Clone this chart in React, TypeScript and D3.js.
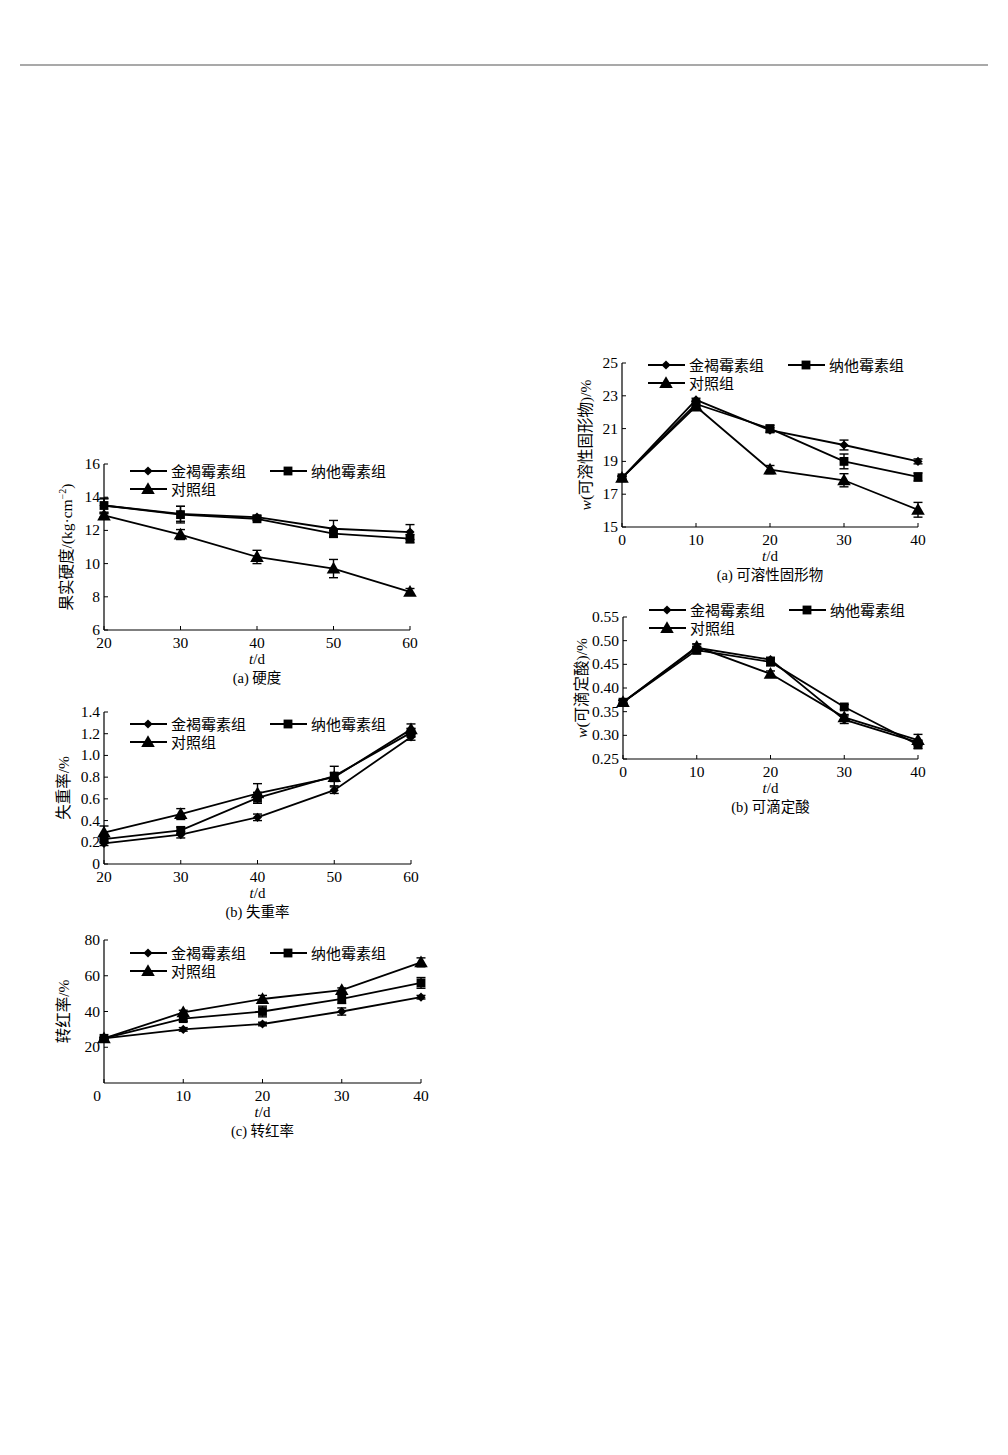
import * as d3 from 'd3'

const SERIES_NAMES = ['金褐霉素组', '纳他霉素组', '对照组']
const MARKERS = ['diamond', 'square', 'triangle']

// (a) 硬度
const daysA = [20, 30, 40, 50, 60]
const hardness = [
  [13.5, 13.0, 12.8, 12.1, 11.9],
  [13.5, 12.95, 12.7, 11.8, 11.5],
  [12.9, 11.75, 10.4, 9.7, 8.3],
]
const hardnessErr = [
  [0.45, 0.45, 0.1, 0.5, 0.45],
  [0.4, 0.5, 0.1, 0.2, 0.25],
  [0.1, 0.3, 0.4, 0.55, 0.2],
]
const hardnessTicks = [6, 8, 10, 12, 14, 16]

// (b) 失重率
const weightLoss = [
  [0.19, 0.27, 0.43, 0.68, 1.17],
  [0.23, 0.31, 0.61, 0.81, 1.21],
  [0.29, 0.46, 0.65, 0.8, 1.24],
]
const weightLossErr = [
  [0.02, 0.03, 0.03, 0.03, 0.03],
  [0.03, 0.03, 0.05, 0.09, 0.04],
  [0.06, 0.05, 0.09, 0.04, 0.05],
]
const weightLossTicks = [0, 0.2, 0.4, 0.6, 0.8, 1.0, 1.2, 1.4]

// (c) 转红率
const daysB = [0, 10, 20, 30, 40]
const redRate = [
  [25, 30, 33, 40, 48],
  [25, 36, 40, 47, 56],
  [25, 39.5, 47, 52, 67.5],
]
const redRateErr = [
  [0.5, 1, 1, 2, 1],
  [0.5, 1.5, 3, 2.5, 3],
  [0.5, 1.2, 2, 1.2, 2.5],
]
const redRateTicks = [20, 40, 60, 80]

// (a) 可溶性固形物
const solids = [
  [18, 22.75, 20.9, 20.0, 19.0],
  [18, 22.5, 21.0, 19.0, 18.05],
  [18, 22.35, 18.5, 17.85, 16.05],
]
const solidsErr = [
  [0.1, 0.1, 0.15, 0.3, 0.15],
  [0.1, 0.15, 0.2, 0.45, 0.25],
  [0.1, 0.15, 0.25, 0.4, 0.45],
]
const solidsTicks = [15, 17, 19, 21, 23, 25]

// (b) 可滴定酸
const acid = [
  [0.37, 0.485, 0.46, 0.333, 0.285],
  [0.37, 0.48, 0.455, 0.36, 0.28],
  [0.37, 0.487, 0.43, 0.338, 0.29],
]
const acidErr = [
  [0.004, 0.008, 0.005, 0.008, 0.005],
  [0.004, 0.008, 0.008, 0.005, 0.008],
  [0.004, 0.006, 0.006, 0.006, 0.012],
]
const acidTicks = [0.25, 0.3, 0.35, 0.4, 0.45, 0.5, 0.55]

const dayTicksA = [20, 30, 40, 50, 60]
const dayTicksB = [0, 10, 20, 30, 40]

const NUM_FONT = '"Liberation Serif", "DejaVu Serif", serif'
const CJK_FONT = '"Liberation Serif", "Noto Sans CJK SC", serif'

type PanelProps = {
  left: number
  right: number
  top: number
  bottom: number
  xs: number[]
  xTicks: number[]
  yDomain: [number, number]
  yTicks: number[]
  yFormat: (v: number) => string
  values: number[][]
  errors: number[][]
  legendY: number
  caption: string
  yLabel: React.ReactNode
  yLabelX: number
  firstXLabelDx?: number
}

function Marker({ kind, x, y }: { kind: string; x: number; y: number }) {
  if (kind === 'square') {
    return <path d={d3.symbol(d3.symbolSquare, 78)() ?? ''} transform={`translate(${x},${y})`} fill="#000" />
  }
  if (kind === 'diamond') {
    return <path d={d3.symbol(d3.symbolSquare, 42)() ?? ''} transform={`translate(${x},${y}) rotate(45)`} fill="#000" />
  }
  return <path d={d3.symbol(d3.symbolTriangle, 80)() ?? ''} transform={`translate(${x},${y + 1})`} fill="#000" />
}

function Panel(p: PanelProps) {
  const x = d3.scaleLinear().domain([p.xTicks[0], p.xTicks[p.xTicks.length - 1]]).range([p.left, p.right])
  const y = d3.scaleLinear().domain(p.yDomain).range([p.bottom, p.top])
  const line = d3.line<[number, number]>().x((d) => x(d[0])).y((d) => y(d[1]))
  const cx = (p.left + p.right) / 2
  const cy = (p.top + p.bottom) / 2
  const legendItems = [
    { x0: p.left + 26, y0: p.legendY },
    { x0: p.left + 166, y0: p.legendY },
    { x0: p.left + 26, y0: p.legendY + 18 },
  ]

  return (
    <g>
      {/* axes */}
      <line x1={p.left} x2={p.left} y1={p.top} y2={p.bottom} stroke="#000" strokeWidth={1.2} />
      <line x1={p.left} x2={p.right} y1={p.bottom} y2={p.bottom} stroke="#000" strokeWidth={1.2} />
      {p.yTicks.map((t) => (
        <g key={'y' + t}>
          <line x1={p.left} x2={p.left + 4} y1={y(t)} y2={y(t)} stroke="#000" strokeWidth={1} />
          <text x={p.left - 4} y={y(t) + 5} textAnchor="end" fontFamily={NUM_FONT} fontSize={15.5}>
            {p.yFormat(t)}
          </text>
        </g>
      ))}
      {p.xTicks.map((t, i) => (
        <g key={'x' + t}>
          <line x1={x(t)} x2={x(t)} y1={p.bottom} y2={p.bottom - 4} stroke="#000" strokeWidth={1} />
          <text x={x(t) + (i === 0 && p.firstXLabelDx ? p.firstXLabelDx : 0)} y={p.bottom + 18} textAnchor="middle" fontFamily={NUM_FONT} fontSize={15.5}>
            {t}
          </text>
        </g>
      ))}
      <text x={cx} y={p.bottom + 34} textAnchor="middle" fontFamily={NUM_FONT} fontSize={15}>
        <tspan fontStyle="italic">t</tspan>/d
      </text>
      <text x={cx} y={p.bottom + 53} textAnchor="middle" fontFamily={CJK_FONT} fontSize={14.5}>
        {p.caption}
      </text>
      <text
        transform={`translate(${p.yLabelX},${cy}) rotate(-90)`}
        textAnchor="middle"
        fontFamily={CJK_FONT}
        fontSize={15.5}
      >
        {p.yLabel}
      </text>

      {/* series */}
      {p.values.map((vals, si) => {
        const pts = vals.map((v, i) => [p.xs[i], v] as [number, number])
        return (
          <g key={'s' + si}>
            <path d={line(pts) ?? ''} fill="none" stroke="#000" strokeWidth={1.8} />
            {vals.map((v, i) => {
              const e = p.errors[si][i]
              const px = x(p.xs[i])
              return (
                <g key={i} stroke="#000" strokeWidth={1.4}>
                  <line x1={px} x2={px} y1={y(v - e)} y2={y(v + e)} />
                  <line x1={px - 4.5} x2={px + 4.5} y1={y(v - e)} y2={y(v - e)} />
                  <line x1={px - 4.5} x2={px + 4.5} y1={y(v + e)} y2={y(v + e)} />
                </g>
              )
            })}
            {vals.map((v, i) => (
              <Marker key={'m' + i} kind={MARKERS[si]} x={x(p.xs[i])} y={y(v)} />
            ))}
          </g>
        )
      })}

      {/* legend */}
      {SERIES_NAMES.map((name, i) => {
        const it = legendItems[i]
        return (
          <g key={'l' + i}>
            <line x1={it.x0} x2={it.x0 + 37} y1={it.y0} y2={it.y0} stroke="#000" strokeWidth={1.8} />
            <Marker kind={MARKERS[i]} x={it.x0 + 18} y={it.y0} />
            <text x={it.x0 + 41} y={it.y0 + 5.5} fontFamily={CJK_FONT} fontSize={15}>
              {name}
            </text>
          </g>
        )
      })}
    </g>
  )
}

export default function App() {
  const f0 = (v: number) => String(v)
  const f1 = (v: number) => (v === 0 ? '0' : v.toFixed(1))
  const f2 = (v: number) => v.toFixed(2)
  return (
    <svg width={1008} height={1455} style={{ position: 'absolute', left: 0, top: 0, background: '#fff' }}>
      <rect width={1008} height={1455} fill="#fff" />
      <line x1={20} x2={988} y1={65} y2={65} stroke="#8c8c8c" strokeWidth={1.6} />

      <Panel
        left={104} right={410} top={464} bottom={630}
        xs={daysA} xTicks={dayTicksA}
        yDomain={[6, 16]} yTicks={hardnessTicks} yFormat={f0}
        values={hardness} errors={hardnessErr}
        legendY={471} caption="(a) 硬度"
        yLabelX={72}
        yLabel={<>果实硬度/(kg·cm<tspan dy={-6} fontSize={10}>−2</tspan><tspan dy={6}>)</tspan></>}
      />
      <Panel
        left={104} right={411} top={712} bottom={864}
        xs={daysA} xTicks={dayTicksA}
        yDomain={[0, 1.4]} yTicks={weightLossTicks} yFormat={f1}
        values={weightLoss} errors={weightLossErr}
        legendY={724} caption="(b) 失重率"
        yLabelX={69}
        yLabel="失重率/%"
      />
      <Panel
        left={104} right={421} top={940} bottom={1083}
        xs={daysB} xTicks={dayTicksB}
        yDomain={[0, 80]} yTicks={redRateTicks} yFormat={f0}
        values={redRate} errors={redRateErr}
        legendY={953} caption="(c) 转红率"
        yLabelX={69}
        yLabel="转红率/%"
        firstXLabelDx={-7}
      />
      <Panel
        left={622} right={918} top={363} bottom={527}
        xs={daysB} xTicks={dayTicksB}
        yDomain={[15, 25]} yTicks={solidsTicks} yFormat={f0}
        values={solids} errors={solidsErr}
        legendY={365} caption="(a) 可溶性固形物"
        yLabelX={591}
        yLabel={<><tspan fontStyle="italic">w</tspan>(可溶性固形物)/%</>}
      />
      <Panel
        left={623} right={918} top={617} bottom={759}
        xs={daysB} xTicks={dayTicksB}
        yDomain={[0.25, 0.55]} yTicks={acidTicks} yFormat={f2}
        values={acid} errors={acidErr}
        legendY={610} caption="(b) 可滴定酸"
        yLabelX={587}
        yLabel={<><tspan fontStyle="italic">w</tspan>(可滴定酸)/%</>}
      />
    </svg>
  )
}
